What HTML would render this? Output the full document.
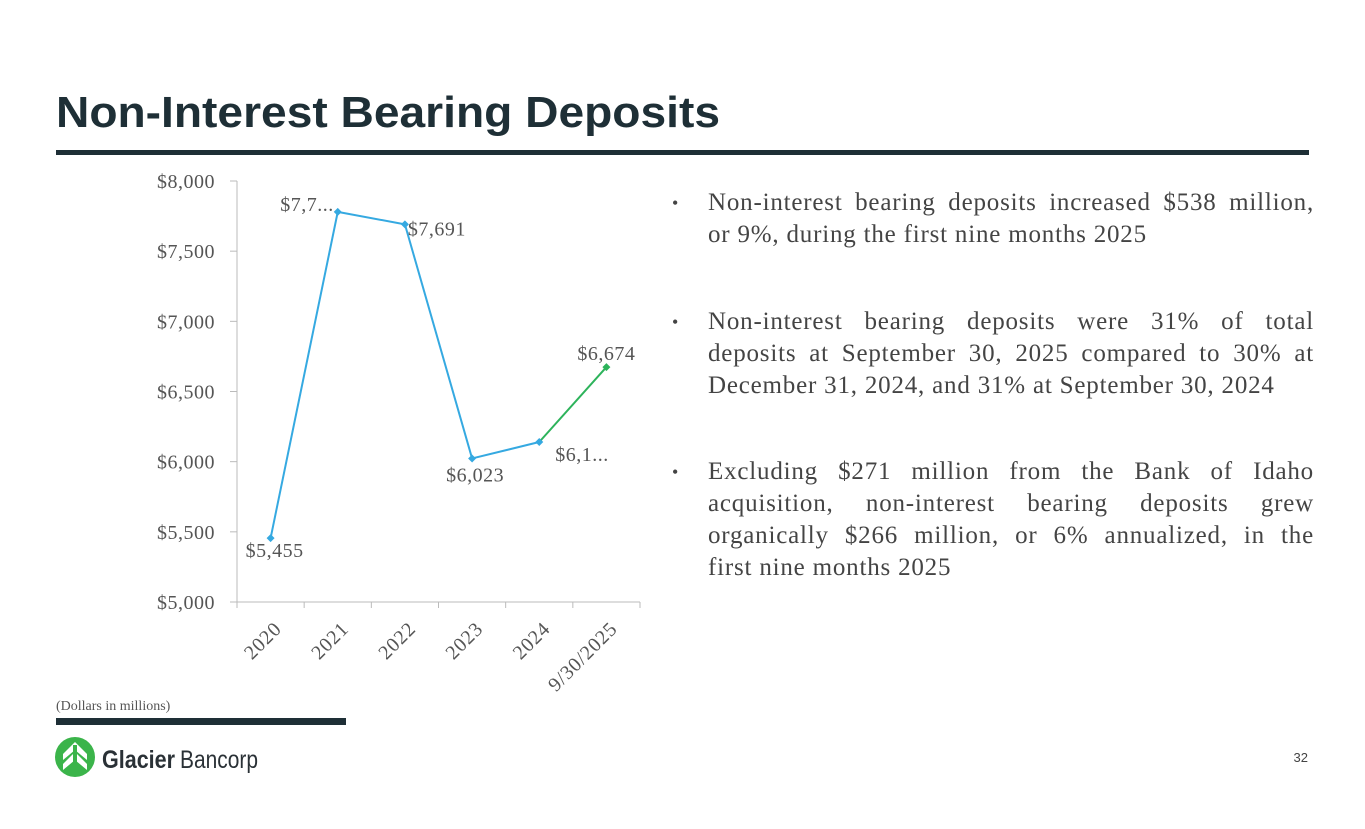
<!DOCTYPE html>
<html><head><meta charset="utf-8"><style>
body{margin:0;background:#fff;}
#page{position:relative;width:1365px;height:829px;overflow:hidden;background:#fff;font-family:"Liberation Serif",serif;}
.bul{position:absolute;left:708px;width:606px;font-size:25px;letter-spacing:0.8px;line-height:32px;color:#444;}
.bul::before{content:"•";position:absolute;left:-36px;font-size:18px;}
.bul span{display:block;white-space:nowrap;}
.bul span.j{text-align:justify;text-align-last:justify;white-space:normal;}
</style></head><body>
<div id="page">
<svg width="1365" height="829" style="position:absolute;left:0;top:0">
<text x="56" y="127" font-family="Liberation Sans,sans-serif" font-weight="bold" font-size="44" fill="#1e2f36" textLength="664" lengthAdjust="spacingAndGlyphs">Non-Interest Bearing Deposits</text>
<rect x="56" y="150" width="1253" height="5" fill="#1e2f36"/>
<text x="56" y="710" font-size="14" fill="#555" font-family="Liberation Serif,serif">(Dollars in millions)</text>
<rect x="56" y="718" width="290" height="7" fill="#1e2f36"/>
<g>
<circle cx="75" cy="757" r="20" fill="#3bb44a"/>
<path d="M75 742 L63 754 L63 760 L75 750 L87 760 L87 754 Z M75 752 L63 764 L63 770 L75 760 L87 770 L87 764 Z" fill="#fff"/>
<rect x="73" y="745" width="4" height="28" fill="#3bb44a"/>
<text x="102" y="768" font-family="Liberation Sans,sans-serif" font-weight="bold" font-size="25" fill="#2a3136" textLength="73" lengthAdjust="spacingAndGlyphs">Glacier</text>
<text x="180" y="768" font-family="Liberation Sans,sans-serif" font-size="25" fill="#2a3136" textLength="78" lengthAdjust="spacingAndGlyphs">Bancorp</text>
</g>
<text x="1308" y="762" text-anchor="end" font-family="Liberation Sans,sans-serif" font-size="13" fill="#444">32</text>
<g id="chart"></g>
</svg>
<div class="bul" style="top:187px"><span class="j">Non-interest bearing deposits increased $538 million,</span><span>or 9%, during the first nine months 2025</span></div>
<div class="bul" style="top:306px"><span class="j">Non-interest bearing deposits were 31% of total</span><span class="j">deposits at September 30, 2025 compared to 30% at</span><span>December 31, 2024, and 31% at September 30, 2024</span></div>
<div class="bul" style="top:456px"><span class="j">Excluding $271 million from the Bank of Idaho</span><span class="j">acquisition, non-interest bearing deposits grew</span><span class="j">organically $266 million, or 6% annualized, in the</span><span>first nine months 2025</span></div>
</div>
<script>
const categories=["2020","2021","2022","2023","2024","9/30/2025"];
const values=[5455,7780,7691,6023,6140,6674];
const valueLabels=["$5,455","$7,7...","$7,691","$6,023","$6,1...","$6,674"];
const yTicks=[5000,5500,6000,6500,7000,7500,8000];
const yTickLabels=["$5,000","$5,500","$6,000","$6,500","$7,000","$7,500","$8,000"];
const NS="http://www.w3.org/2000/svg";
const g=document.getElementById('chart');
const X0=237,X1=640,Y0=602,Y1=181,YMIN=5000,YMAX=8000;
const band=(X1-X0)/categories.length;
function xs(i){return X0+(i+0.5)*band;}
function ys(v){return Y0-(v-YMIN)/(YMAX-YMIN)*(Y0-Y1);}
function mk(t,a){const e=document.createElementNS(NS,t);for(const k in a)e.setAttribute(k,a[k]);g.appendChild(e);return e;}
let ax=mk('line',{x1:X0,y1:Y1,x2:X0,y2:Y0,stroke:'#bbb'});


let bx=mk('line',{x1:X0-7,y1:Y0,x2:X1,y2:Y0,stroke:'#bbb'});


yTicks.forEach((v,i)=>{
 mk('line',{x1:X0-7,x2:X0,y1:ys(v),y2:ys(v),stroke:'#bbb'});
 const t=mk('text',{x:215,y:ys(v)+7,'text-anchor':'end','font-size':20,'letter-spacing':0.5,fill:'#555','font-family':'Liberation Serif,serif'});
 t.textContent=yTickLabels[i];
 
 
});
for(let i=0;i<=categories.length;i++)mk('line',{x1:X0+i*band,x2:X0+i*band,y1:Y0,y2:Y0+6,stroke:'#bbb'});
categories.forEach((c,i)=>{
 const x=xs(i)+12,y=Y0+28;
 const t=mk('text',{x:x,y:y,'text-anchor':'end','font-size':20,'letter-spacing':0.8,fill:'#555','font-family':'Liberation Serif,serif',transform:`rotate(-45 ${x} ${y})`});
 t.textContent=c;
 
 
});
for(let i=0;i<values.length-1;i++){
 const col=i===values.length-2?'#2db35b':'#35a9e1';
 const l=mk('line',{x1:xs(i),y1:ys(values[i]),x2:xs(i+1),y2:ys(values[i+1]),stroke:col,'stroke-width':2});
 
 
}
const offs=[[4,16,'middle'],[-4,-1,'end'],[3,8,'start'],[3,20,'middle'],[16,16,'start'],[0,-7,'middle']];
values.forEach((v,i)=>{
 const x=xs(i),y=ys(v),col=i===values.length-1?'#2db35b':'#35a9e1';
 const p=mk('path',{d:`M${x} ${y-4}L${x+4} ${y}L${x} ${y+4}L${x-4} ${y}Z`,fill:col});
 
 
 const o=offs[i];
 const t=mk('text',{x:x+o[0],y:y+o[1]+(o[1]>0?3:0),'text-anchor':o[2],'font-size':20,'letter-spacing':0.5,fill:'#555','font-family':'Liberation Serif,serif'});
 t.textContent=valueLabels[i];
 
 
});
</script>
</body></html>
